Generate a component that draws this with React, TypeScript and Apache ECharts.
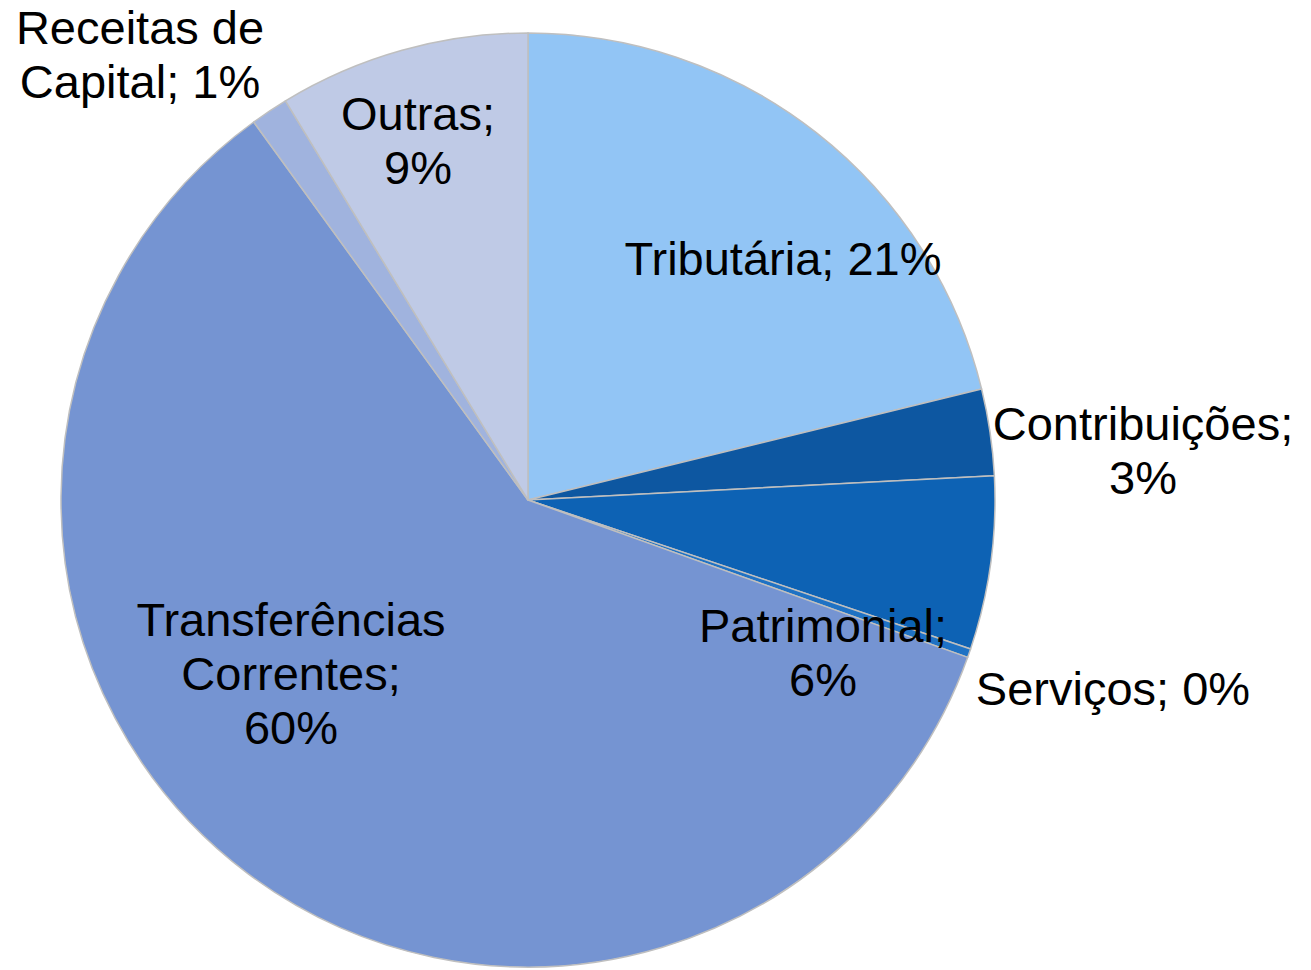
import React, { useEffect, useRef } from "react";
import * as echarts from "echarts";

const categories = [
  "Tributária",
  "Contribuições",
  "Patrimonial",
  "Serviços",
  "Transferências Correntes",
  "Receitas de Capital",
  "Outras",
];
const values = [21.2, 3.0, 6.0, 0.3, 59.6, 1.3, 8.7];
const colors = ["#92C5F5", "#0D57A1", "#0D62B4", "#1F72C4", "#7594D2", "#A0B3DE", "#BFCAE6"];
// label text templates ({n} = name, {p} = rounded percent)
const labelTemplates = [
  "{n}; {p}%",
  "{n};\n{p}%",
  "{n};\n{p}%",
  "{n}; {p}%",
  "Transferências\nCorrentes;\n{p}%",
  "Receitas de\nCapital; {p}%",
  "{n};\n{p}%",
];
// label anchor positions (centre of text block)
const labelPos = [
  [783, 258],
  [1143, 450],
  [823, 652],
  [1113, 688],
  [291, 673],
  [140, 54],
  [418, 140],
];

export default function App() {
  const ref = useRef<HTMLDivElement>(null);
  useEffect(() => {
    if (!ref.current) return;
    const chart = echarts.init(ref.current, undefined, { renderer: "svg" });
    chart.setOption({
      animation: false,
      backgroundColor: "#ffffff",
      series: [
        {
          type: "pie",
          center: [528, 500],
          radius: [0, 467],
          startAngle: 90,
          clockwise: true,
          avoidLabelOverlap: false,
          data: categories.map((c, i) => ({
            name: c,
            value: values[i],
            itemStyle: { color: colors[i] },
          })),
          itemStyle: { borderColor: "#BFBFBF", borderWidth: 1.5 },
          label: {
            show: true,
            position: "inside",
            color: "#000000",
            fontFamily: "'Liberation Sans', Arial, sans-serif",
            fontSize: 47,
            lineHeight: 54,
            align: "center",
            formatter: (p: any) =>
              labelTemplates[p.dataIndex]
                .replace("{n}", p.name)
                .replace("{p}", String(Math.round(p.percent))),
          },
          labelLine: { show: false },
          labelLayout: (params: any) => {
            const pos = labelPos[params.dataIndex];
            return { x: pos[0], y: pos[1], align: "center", verticalAlign: "middle" };
          },
          emphasis: { disabled: true },
        },
      ],
    });
    return () => chart.dispose();
  }, []);
  return (
    <div
      ref={ref}
      style={{ position: "fixed", left: 0, top: 0, width: 1311, height: 970 }}
    />
  );
}
